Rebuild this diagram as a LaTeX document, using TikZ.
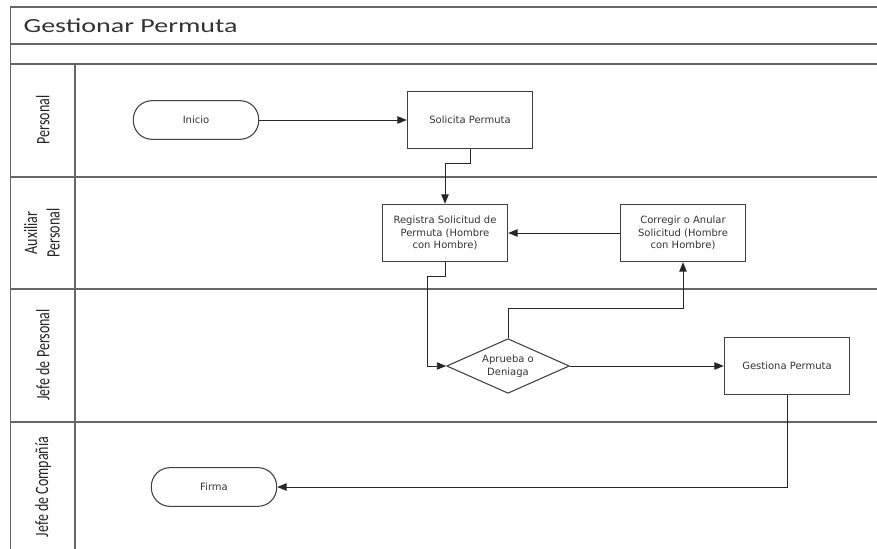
\documentclass[tikz,border=0pt]{standalone}
\usepackage{fontspec}
\setmainfont{Carlito}
\newfontfamily\boxfont{DejaVu Sans}
\usetikzlibrary{shapes.geometric,arrows.meta}

\begin{document}
\begin{tikzpicture}[x=0.75pt, y=-0.75pt,
  lane/.style={line width=1.2pt, draw=black!60},
  actbox/.style={draw=black!75, line width=0.8pt, minimum width=94pt, minimum height=43pt,
    inner sep=1pt, align=center, text=black!80, font=\boxfont\fontsize{7.5}{9.6}\selectfont},
  term/.style={actbox, rounded corners=14pt, minimum height=29pt},
  decision/.style={actbox, diamond, aspect=2.2, minimum width=92pt, minimum height=41pt, inner sep=0pt},
  flow/.style={draw=black!85, line width=0.7pt, -{Triangle[length=7pt,width=5.5pt]}},
  lanelabel/.style={rotate=90, yscale=1.35, align=center, text=black!85, font=\fontsize{10.5}{12.5}\selectfont}
]
  \useasboundingbox (0,0) rectangle (877,549);

  % marco y calles
  \draw[lane] (10,7) -- (877,7);
  \draw[lane] (10.5,7) -- (10.5,549);
  \foreach \y in {44,64,177,289,422}
    \draw[lane] (10,\y) -- (877,\y);
  \draw[lane] (75,64) -- (75,549);

  \node[anchor=west, xscale=1.4, text=black!80, font=\fontsize{15}{18}\selectfont] (titulo) at (17,26) {Gestionar Permuta};

  \node[lanelabel] (personal) at (43,120) {Personal};
  \node[lanelabel] (auxiliar) at (42,233) {Auxiliar\\Personal};
  \node[lanelabel] (jefepers) at (43,355) {Jefe de Personal};
  \node[lanelabel] (jefecomp) at (43,487) {Jefe de Compañía};

  % actividades
  \node[term] (inicio) at (196,120) {Inicio};
  \node[actbox] (solicita) at (470,120) {Solicita Permuta};

  \node[actbox] (registra) at (445,233) {Registra Solicitud de\\Permuta (Hombre\\con Hombre)};
  \node[actbox] (corregir) at (683,233) {Corregir o Anular\\Solicitud (Hombre\\con Hombre)};

  \node[decision] (aprueba) at (508,366) {Aprueba o\\Deniaga};
  \node[actbox] (gestiona) at (787,366) {Gestiona Permuta};

  \node[term] (firma) at (214,487) {Firma};

  % flujo
  \draw[flow] (inicio) -- (solicita);
  \draw[flow] (solicita.south) -- ++(0,14) -| (registra.north);
  \draw[flow] (corregir) -- (registra);
  \draw[flow] (registra.south) -- ++(0,14) -- ++(-18,0) |- (aprueba.west);
  \draw[flow] (aprueba.north) -- ++(0,-30) -| (corregir.south);
  \draw[flow] (aprueba) -- (gestiona);
  \draw[flow] (gestiona.south) |- (firma.east);
\end{tikzpicture}
\end{document}
